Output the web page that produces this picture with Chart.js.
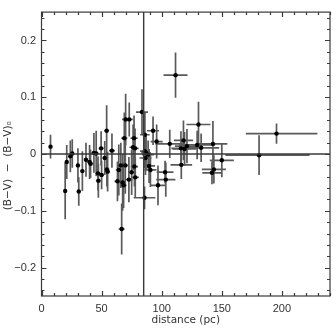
<!DOCTYPE html>
<html>
<head>
<meta charset="utf-8">
<script src="https://cdn.jsdelivr.net/npm/chart.js@4"></script>
<style>
  body { margin: 0; background: #fff; }
</style>
</head>
<body>
<canvas id="chart" width="336" height="328"></canvas>
<script>
// distance (pc) and colour excess for each star
const dist = [7.5, 19.7, 21, 24, 25.6, 30.3, 31, 34, 37, 40, 40.8, 43.6, 45.5, 47, 47.3, 49.6, 50, 52.6, 54.2, 54.4,
  55, 58.6, 63.2, 64.3, 66, 66.7, 67.5, 68.3, 68.9, 69.7, 70, 72.7, 73, 75, 76.2, 77, 77.3, 77.8, 78, 83.6,
  85.7, 86, 86, 86.5, 87, 88.7, 89.5, 90.6, 92.8, 95.8, 96.9, 102.8, 103.4, 106.7, 111.5, 116, 116.3, 118.1, 119, 121,
  129.5, 130.6, 132.8, 141.8, 142.6, 143.4, 150, 181, 195.5];
const color = [0.013, -0.065, -0.014, -0.004, 0.001, -0.02, -0.066, -0.03, -0.01, -0.014, -0.017, 0.002, 0.001, -0.034, -0.047, 0.01, -0.037, -0.007, 0.041, -0.027,
  -0.031, 0.006, -0.048, -0.028, -0.02, -0.132, -0.05, -0.055, 0.028, -0.02, 0.061, -0.045, 0.061, -0.032, 0.012, 0.028, -0.022, 0.01, -0.041, 0.074,
  -0.077, 0.034, 0.005, -0.007, 0.002, -0.001, -0.021, -0.028, 0.041, 0.022, -0.055, -0.032, -0.045, 0.018, 0.139, 0.01, -0.019, 0.024, 0.009, 0.014,
  0.016, 0.052, 0.011, -0.033, 0.018, -0.027, -0.011, -0.002, 0.036];
const distErrMinus = [1, 1, 1, 1.5, 1.5, 1.5, 1.5, 1.5, 1.5, 2, 2, 2, 2, 2, 2, 2, 2, 2, 2, 2,
  2, 2.5, 2.5, 2.5, 2.5, 2.5, 2.5, 2.5, 2.5, 2.5, 3, 3, 3, 3, 3, 3, 3, 3, 3, 5,
  9, 4, 4, 5, 4, 5, 5, 5, 5, 5, 6, 7, 8, 12, 10, 8, 9, 8, 10, 10,
  15, 10, 15, 8, 12, 10, 10, 28, 25.5];
const distErrPlus = [1, 1, 1, 1.5, 1.5, 1.5, 1.5, 1.5, 1.5, 2, 2, 2, 2, 2, 2, 2, 2, 2, 2, 2,
  2, 2.5, 2.5, 2.5, 2.5, 2.5, 2.5, 2.5, 2.5, 2.5, 3, 3, 3, 3, 3, 3, 3, 3, 3, 5,
  9, 4, 4, 5, 4, 5, 5, 5, 5, 5, 6, 7, 8, 12, 10, 8, 9, 8, 10, 10,
  15, 10, 15, 8, 12, 10, 10, 42, 34];
const colorErr = [0.021, 0.05, 0.03, 0.028, 0.025, 0.03, 0.025, 0.035, 0.03, 0.03, 0.025, 0.035, 0.04, 0.03, 0.03, 0.03, 0.025, 0.03, 0.045, 0.03,
  0.035, 0.03, 0.035, 0.045, 0.04, 0.045, 0.05, 0.04, 0.045, 0.05, 0.045, 0.04, 0.03, 0.04, 0.04, 0.04, 0.035, 0.035, 0.035, 0.04,
  0.02, 0.04, 0.03, 0.03, 0.03, 0.025, 0.03, 0.03, 0.025, 0.03, 0.035, 0.02, 0.03, 0.025, 0.04, 0.03, 0.025, 0.035, 0.03, 0.03,
  0.025, 0.04, 0.025, 0.02, 0.04, 0.025, 0.03, 0.035, 0.018];

const refDistance = 85;
const refColor = 0;
const xRange = [0, 240];
const yRange = [-0.25, 0.25];
// tick positions: minor every 10 pc / 0.02 mag, labels on the majors
const xTicks = [0, 10, 20, 30, 40, 50, 60, 70, 80, 90, 100, 110, 120, 130, 140, 150, 160, 170, 180, 190, 200, 210, 220, 230, 240];
const xLabels = { 0: '0', 50: '50', 100: '100', 150: '150', 200: '200' };
const yTicks = [-0.24, -0.22, -0.2, -0.18, -0.16, -0.14, -0.12, -0.1, -0.08, -0.06, -0.04, -0.02, 0,
  0.02, 0.04, 0.06, 0.08, 0.1, 0.12, 0.14, 0.16, 0.18, 0.2, 0.22, 0.24];
const yLabels = { '-0.2': '\u22120.2', '-0.1': '\u22120.1', '0': '0', '0.1': '0.1', '0.2': '0.2' };

const axisColor = '#3a3a3a';
const barColor = '#5a5a5a';

// error bars drawn through the scales, under the points
const errorBars = {
  id: 'errorBars',
  beforeDatasetsDraw(chart) {
    const { ctx, scales: { x, y } } = chart;
    ctx.save();
    ctx.strokeStyle = barColor;
    ctx.lineWidth = 1.7;
    dist.forEach((d, i) => {
      const px = x.getPixelForValue(d);
      const py = y.getPixelForValue(color[i]);
      ctx.beginPath();
      ctx.moveTo(px, y.getPixelForValue(color[i] - colorErr[i]));
      ctx.lineTo(px, y.getPixelForValue(color[i] + colorErr[i]));
      ctx.moveTo(x.getPixelForValue(d - distErrMinus[i]), py);
      ctx.lineTo(x.getPixelForValue(d + distErrPlus[i]), py);
      ctx.stroke();
    });
    ctx.restore();
  }
};

// frame with inward major/minor ticks on all four sides
const frameTicks = {
  id: 'frameTicks',
  afterDraw(chart) {
    const { ctx, chartArea: a, scales: { x, y } } = chart;
    ctx.save();
    ctx.strokeStyle = axisColor;
    ctx.lineWidth = 1.2;
    ctx.strokeRect(a.left, a.top, a.right - a.left, a.bottom - a.top);
    ctx.beginPath();
    xTicks.forEach(v => {
      const len = xLabels[v] ? 5 : 3;
      const px = Math.round(x.getPixelForValue(v)) + 0.5;
      ctx.moveTo(px, a.bottom); ctx.lineTo(px, a.bottom - len);
      ctx.moveTo(px, a.top); ctx.lineTo(px, a.top + len);
    });
    yTicks.forEach(v => {
      const len = yLabels[String(v)] ? 5 : 3;
      const py = Math.round(y.getPixelForValue(v)) + 0.5;
      ctx.moveTo(a.left, py); ctx.lineTo(a.left + len, py);
      ctx.moveTo(a.right, py); ctx.lineTo(a.right - len, py);
    });
    ctx.stroke();
    ctx.restore();
  }
};

const font = { family: '"Liberation Sans", Arial, sans-serif', size: 11 };
const titleFont = { family: '"DejaVu Sans", sans-serif', size: 10.5 };

new Chart(document.getElementById('chart'), {
  type: 'scatter',
  data: {
    datasets: [
      {
        data: [{ x: xRange[0], y: refColor }, { x: xRange[1], y: refColor }],
        showLine: true, borderColor: axisColor, borderWidth: 1.4, pointRadius: 0
      },
      {
        data: [{ x: refDistance, y: yRange[0] }, { x: refDistance, y: yRange[1] }],
        showLine: true, borderColor: axisColor, borderWidth: 1.4, pointRadius: 0
      },
      {
        data: dist.map((d, i) => ({ x: d, y: color[i] })),
        pointRadius: 2.2, pointBackgroundColor: '#000', pointBorderWidth: 0
      }
    ]
  },
  options: {
    responsive: false,
    animation: false,
    layout: { padding: { top: 6, right: 1, left: 0, bottom: 0 } },
    plugins: { legend: { display: false }, tooltip: { enabled: false } },
    scales: {
      x: {
        type: 'linear', min: xRange[0], max: xRange[1],
        afterFit(s) { s.height = 32; },
        afterBuildTicks(s) { s.ticks = xTicks.map(v => ({ value: v })); },
        grid: { display: false, drawTicks: false },
        border: { display: false },
        ticks: {
          autoSkip: false, maxRotation: 0, padding: 6,
          color: '#333', font,
          callback: v => xLabels[v] || ''
        },
        title: { display: true, text: 'distance (pc)', color: '#333', font: titleFont, padding: { top: 0, bottom: 1 } }
      },
      y: {
        min: yRange[0], max: yRange[1],
        afterFit(s) { s.width = 41.5; },
        afterBuildTicks(s) { s.ticks = yTicks.map(v => ({ value: v })); },
        grid: { display: false, drawTicks: false },
        border: { display: false },
        ticks: {
          autoSkip: false, padding: 5.5,
          color: '#333', font,
          callback: v => yLabels[String(v)] || ''
        },
        // trailing spaces push the rotated title a little below the centre, as in the original
        title: { display: true, text: '(B\u2212V)  \u2212  (B\u2212V)\u2080       ', color: '#333', font: titleFont, padding: { top: 1.5, bottom: 0 } }
      }
    }
  },
  plugins: [errorBars, frameTicks]
});
</script>
</body>
</html>
